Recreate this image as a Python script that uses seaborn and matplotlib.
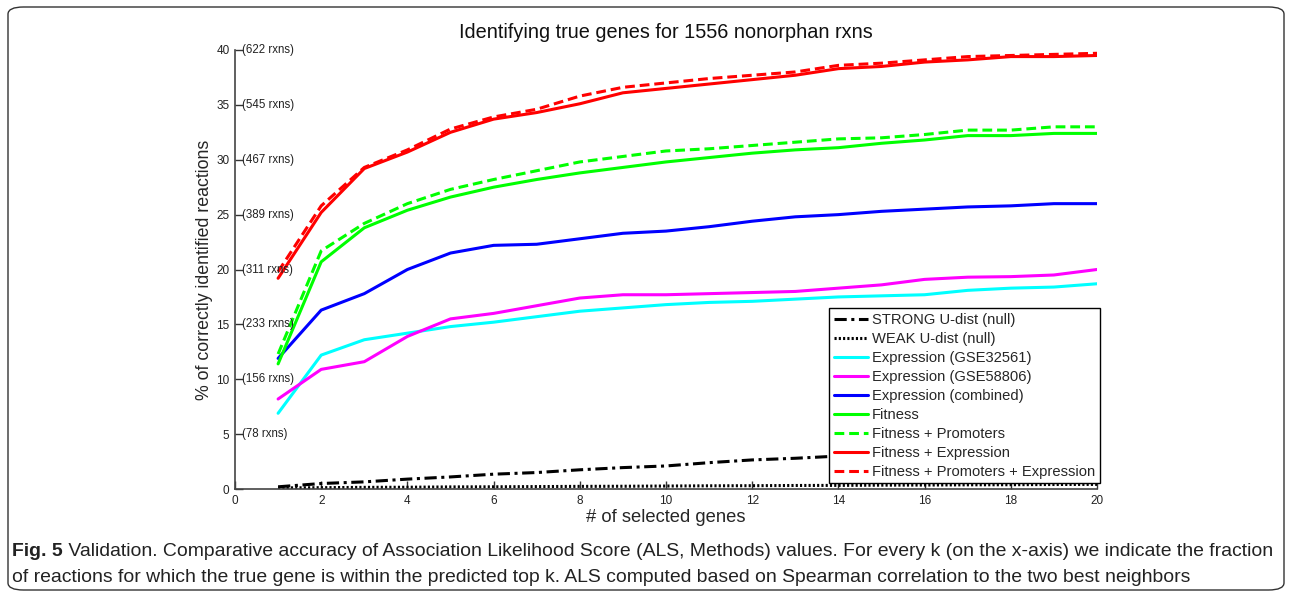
import numpy as np
import pandas as pd
import matplotlib
matplotlib.use("Agg")
import matplotlib.pyplot as plt
import seaborn as sns
from matplotlib.patches import FancyBboxPatch

# ---------------- data ----------------
k = list(range(1, 21))
strong_null = [0.2, 0.5, 0.65, 0.9, 1.1, 1.35, 1.5, 1.75, 1.95, 2.1, 2.4, 2.65, 2.8, 3.0, 3.15, 3.35, 3.5, 3.65, 3.8, 3.95]
weak_null = [0.1, 0.12, 0.15, 0.16, 0.19, 0.2, 0.22, 0.24, 0.25, 0.27, 0.29, 0.3, 0.32, 0.33, 0.35, 0.36, 0.38, 0.39, 0.41, 0.42]
expr_gse32561 = [6.9, 12.2, 13.6, 14.2, 14.8, 15.2, 15.7, 16.2, 16.5, 16.8, 17.0, 17.1, 17.3, 17.5, 17.6, 17.7, 18.1, 18.3, 18.4, 18.7]
expr_gse58806 = [8.2, 10.9, 11.6, 13.9, 15.5, 16.0, 16.7, 17.4, 17.7, 17.7, 17.8, 17.9, 18.0, 18.3, 18.6, 19.1, 19.3, 19.35, 19.5, 20.0]
expr_combined = [11.9, 16.3, 17.8, 20.0, 21.5, 22.2, 22.3, 22.8, 23.3, 23.5, 23.9, 24.4, 24.8, 25.0, 25.3, 25.5, 25.7, 25.8, 26.0, 26.0]
fitness = [11.4, 20.7, 23.8, 25.4, 26.6, 27.5, 28.2, 28.8, 29.3, 29.8, 30.2, 30.6, 30.9, 31.1, 31.5, 31.8, 32.2, 32.2, 32.4, 32.4]
fitness_prom = [12.3, 21.7, 24.2, 26.0, 27.3, 28.2, 29.0, 29.8, 30.3, 30.8, 31.0, 31.3, 31.6, 31.9, 32.0, 32.3, 32.7, 32.7, 33.0, 33.0]
fitness_expr = [19.2, 25.2, 29.2, 30.7, 32.5, 33.7, 34.3, 35.1, 36.1, 36.5, 36.9, 37.3, 37.7, 38.3, 38.5, 38.9, 39.1, 39.4, 39.4, 39.5]
fitness_prom_expr = [19.8, 25.8, 29.3, 30.9, 32.8, 33.9, 34.6, 35.8, 36.6, 37.0, 37.4, 37.7, 38.0, 38.6, 38.8, 39.1, 39.4, 39.5, 39.6, 39.7]

series_names = ["STRONG U-dist (null)", "WEAK U-dist (null)", "Expression (GSE32561)",
                "Expression (GSE58806)", "Expression (combined)", "Fitness",
                "Fitness + Promoters", "Fitness + Expression", "Fitness + Promoters + Expression"]
series_values = [strong_null, weak_null, expr_gse32561, expr_gse58806, expr_combined,
                 fitness, fitness_prom, fitness_expr, fitness_prom_expr]

y_ticks = [0, 5, 10, 15, 20, 25, 30, 35, 40]
rxn_labels = ["", "(78 rxns)", "(156 rxns)", "(233 rxns)", "(311 rxns)", "(389 rxns)",
              "(467 rxns)", "(545 rxns)", "(622 rxns)"]
x_ticks = [0, 2, 4, 6, 8, 10, 12, 14, 16, 18, 20]

title = "Identifying true genes for 1556 nonorphan rxns"
xlabel = "# of selected genes"
ylabel = "% of correctly identified reactions"
cap_bold = "Fig. 5"
cap_line1 = (" Validation. Comparative accuracy of Association Likelihood Score (ALS, Methods) values. "
             "For every k (on the x-axis) we indicate the fraction")
cap_line2 = ("of reactions for which the true gene is within the predicted top k. ALS computed based on "
             "Spearman correlation to the two best neighbors")

# ---------------- styles ----------------
colors = ["black", "black", "#00ffff", "#ff00ff", "#0000ff", "#00ff00", "#00ff00", "#ff0000", "#ff0000"]
lw = 2.2
styles = [(0, (4.0, 1.5, 1.0, 1.5)), (0, (0.7, 0.7)), "-", "-", "-", "-", (0, (3.2, 1.6)), "-", (0, (3.2, 1.6))]

sns.set_style("white")
plt.rcParams["font.family"] = ["Liberation Sans", "DejaVu Sans"]

fig = plt.figure(figsize=(12.92, 5.97), dpi=100)
ax = fig.add_axes([235 / 1292, 108 / 597, 862 / 1292, 439 / 597])

df = pd.DataFrame({"k": k})
for name, vals, c, ls in zip(series_names, series_values, colors, styles):
    df[name] = vals
    sns.lineplot(data=df, x="k", y=name, color=c, linestyle=ls, linewidth=lw, ax=ax, label=name)

ax.set_xlim(0, 20)
ax.set_ylim(0, 40)
ax.set_xticks(x_ticks)
ax.set_yticks(y_ticks)
ax.set_xticklabels([str(v) for v in x_ticks], fontsize=8.5)
ax.set_yticklabels([str(v) for v in y_ticks], fontsize=8.5)
ax.tick_params(axis="both", direction="in", length=6, width=1, color="#333333",
               left=True, bottom=True, pad=4, labelcolor="#222222")
for s in ["top", "right"]:
    ax.spines[s].set_visible(False)
for s in ["left", "bottom"]:
    ax.spines[s].set_color("#444444")
    ax.spines[s].set_linewidth(1.2)

for yv, lab in zip(y_ticks, rxn_labels):
    if lab:
        ax.annotate(lab, xy=(0, yv), xycoords=("axes fraction", "data"), xytext=(7, 0),
                    textcoords="offset pixels", ha="left", va="center", fontsize=8.3, color="#222222")

ax.set_title(title, fontsize=14.3, pad=9, color="#111111")
ax.set_xlabel(xlabel, fontsize=13.2, labelpad=2)
ax.set_ylabel(ylabel, fontsize=12.8, labelpad=2)

leg = ax.legend(loc="lower right", bbox_to_anchor=(1.003, 0.013), fontsize=10.6, frameon=True,
                fancybox=False, edgecolor="black", handlelength=2.3, handletextpad=0.3,
                labelspacing=0.34, borderpad=0.3, borderaxespad=0.0)
leg.get_frame().set_linewidth(1.0)
leg.get_frame().set_alpha(1)

# figure frame
frame = FancyBboxPatch((8 / 1292, 7 / 597), 1276 / 1292, 583 / 597,
                       boxstyle="round,pad=0,rounding_size=0.012", transform=fig.transFigure,
                       fill=False, edgecolor="#333333", linewidth=1.0)
fig.patches.append(frame)

# caption
cap_font = ["Liberation Sans", "DejaVu Sans"]
fs_cap = 13.95
t_bold = fig.text(12 / 1292, 1 - 552 / 597, cap_bold, fontsize=fs_cap, fontweight="bold",
                  family=cap_font, va="center", ha="left", color="#222222")
fig.canvas.draw()
bb = t_bold.get_window_extent()
fig.text(bb.x1 / 1292, 1 - 552 / 597, cap_line1, fontsize=fs_cap, family=cap_font,
         va="center", ha="left", color="#222222")
fig.text(12 / 1292, 1 - 577 / 597, cap_line2, fontsize=fs_cap, family=cap_font,
         va="center", ha="left", color="#222222")

fig.savefig("out.png", dpi=100)
